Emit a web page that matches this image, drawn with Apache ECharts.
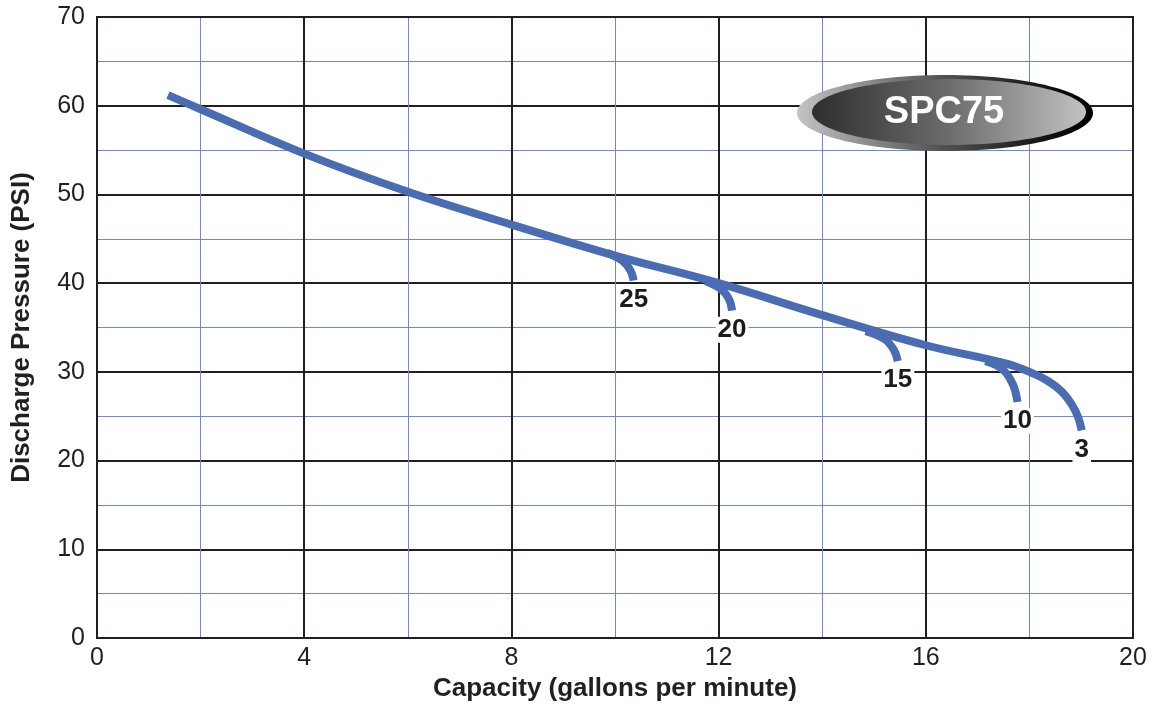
<!DOCTYPE html>
<html>
<head>
<meta charset="utf-8">
<script src="https://cdn.jsdelivr.net/npm/echarts@6/dist/echarts.min.js"></script>
<style>html,body{margin:0;padding:0;background:#fff;}#chart{width:1152px;height:711px;}</style>
</head>
<body>
<div id="chart"></div>
<script>
// Main pump curve (capacity gpm, pressure PSI)
var mainCurve = [[1.37,61.2],[2,59.6],[4,54.6],[6,50.3],[8,46.6],[10,43.1],[12,40.0],[14,36.4],[16,33.0],[17.5,31.0],[18,30.0],[18.35,29.0],[18.62,27.8],[18.82,26.3],[18.94,24.9],[19.01,23.4]];
// Branch curves, labelled by their number
var branch25 = [[9.85,43.4],[10.15,42.5],[10.3,41.4],[10.36,40.3]];
var branch20 = [[11.75,40.2],[12.05,39.3],[12.2,38.2],[12.26,36.9]];
var branch15 = [[14.84,34.6],[15.2,33.7],[15.38,32.5],[15.46,31.2]];
var branch10 = [[17.15,31.2],[17.48,30.3],[17.68,28.6],[17.77,26.6]];
var branchNames = ['25','20','15','10'];
var curveEndName = '3';
var xTicks = [0,4,8,12,16,20];
var yTicks = [0,10,20,30,40,50,60,70];

var lineColor = '#4a6cb3';
var font = 'Liberation Sans, Arial, sans-serif';
var chart = echarts.init(document.getElementById('chart'));

function lineSeries(data){
  return {type:'line', data:data, smooth:0.4, showSymbol:false, symbol:'none',
    lineStyle:{color:lineColor,width:8,cap:'butt'}, z:3, silent:true};
}
var branches = [branch25,branch20,branch15,branch10];
var labelPts = branches.map(function(b,i){ var p=b[b.length-1]; return {value:[p[0],p[1]], name:branchNames[i]}; });
var mEnd = mainCurve[mainCurve.length-1];
labelPts.push({value:[mEnd[0],mEnd[1]], name:curveEndName});

var series = [lineSeries(mainCurve)].concat(branches.map(lineSeries));
series.push({type:'scatter', data:labelPts, symbolSize:0, z:4, silent:true,
  label:{show:true, position:'bottom', distance:6, formatter:function(p){return p.name;},
    color:'#1f1b1c', fontSize:26, fontWeight:'bold', fontFamily:font, opacity:1,
    textBorderWidth:0, backgroundColor:'#fff', padding:[0,2,0,2], lineHeight:26},
  itemStyle:{opacity:1}});

chart.setOption({
  animation:false,
  backgroundColor:'#fff',
  grid:{left:97,right:19,top:17,bottom:73,containLabel:false},
  xAxis:{type:'value',min:0,max:20,interval:4,
    name:'Capacity (gallons per minute)',nameLocation:'middle',nameGap:38,
    nameTextStyle:{fontSize:26,fontWeight:'bold',color:'#231f20',fontFamily:font},
    axisLine:{show:true,lineStyle:{color:'#231f20',width:2}},
    axisTick:{show:false},
    axisLabel:{fontSize:25,color:'#231f20',margin:8,fontFamily:font,
      formatter:function(v){return xTicks.indexOf(v)>=0?String(v):'';}},
    splitLine:{show:true,lineStyle:{color:'#231f20',width:2}},
    minorTick:{show:false,splitNumber:2},
    minorSplitLine:{show:true,lineStyle:{color:'#6f87d6',width:1}}
  },
  yAxis:{type:'value',min:0,max:70,interval:10,
    name:'Discharge Pressure (PSI)',nameLocation:'middle',nameGap:62,nameRotate:90,
    nameTextStyle:{fontSize:26,fontWeight:'bold',color:'#231f20',fontFamily:font},
    axisLine:{show:true,lineStyle:{color:'#231f20',width:2}},
    axisTick:{show:false},
    axisLabel:{fontSize:25,color:'#231f20',margin:12,fontFamily:font,
      formatter:function(v){return yTicks.indexOf(v)>=0?String(v):'';}},
    splitLine:{show:true,lineStyle:{color:'#231f20',width:2}},
    minorTick:{show:false,splitNumber:2},
    minorSplitLine:{show:true,lineStyle:{color:'#6f87d6',width:1}}
  },
  graphic:[
    {type:'rect',shape:{x:97,y:17,width:1036,height:621},style:{fill:null,stroke:'#231f20',lineWidth:2},z:2,silent:true},
    {type:'ellipse',shape:{cx:945,cy:113,rx:148,ry:38},z:10,
      style:{fill:new echarts.graphic.LinearGradient(0,0,1,0,[{offset:0,color:'#c4c4c4'},{offset:0.45,color:'#5a5a5a'},{offset:0.85,color:'#111'},{offset:1,color:'#000'}])}},
    {type:'ellipse',shape:{cx:949,cy:112,rx:137,ry:33},z:11,
      style:{fill:new echarts.graphic.LinearGradient(0,0,1,0,[{offset:0,color:'#2e2e2e'},{offset:0.5,color:'#6c6c6c'},{offset:1,color:'#c2c2c2'}])}},
    {type:'text',x:944,y:113,z:12,style:{text:'SPC75',fill:'#fff',fontSize:38,fontWeight:'bold',
      fontFamily:font,align:'center',verticalAlign:'middle'}}
  ],
  series:series
});
</script>
</body>
</html>
